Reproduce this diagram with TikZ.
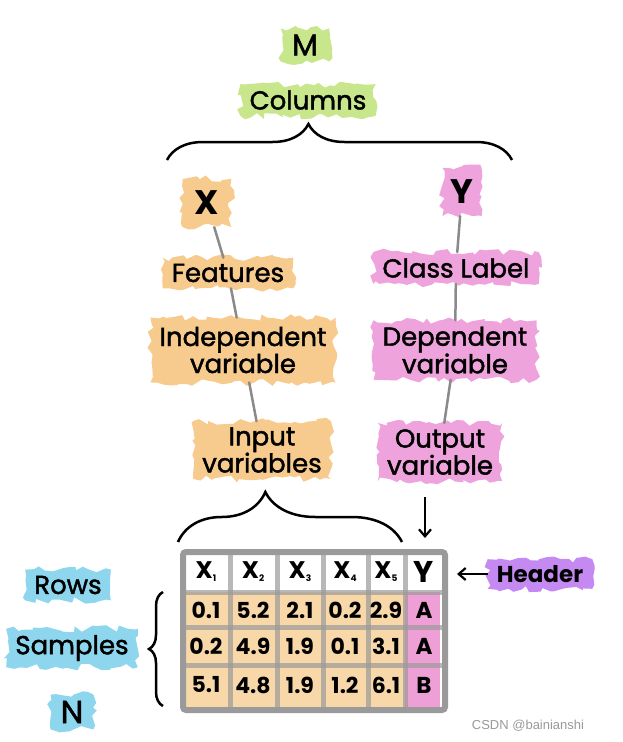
\documentclass[tikz,border=0pt]{standalone}
\usepackage{xcolor}
\usepackage{fontspec}
\setmainfont{Poppins}
\newfontfamily\handfont{Poppins}[FakeBold=1.6]
\newfontfamily\wmfont{Liberation Sans}
\usepackage{tikz}
\usetikzlibrary{positioning, arrows.meta, backgrounds, decorations.pathmorphing, decorations.pathreplacing}
\definecolor{mgreen}{HTML}{C8E68C}
\definecolor{xorange}{HTML}{F7CB8E}
\definecolor{ypink}{HTML}{EFA3DC}
\definecolor{rblue}{HTML}{8DD6EE}
\definecolor{hpurple}{HTML}{C48AF2}
\definecolor{cellorange}{HTML}{F8D8A8}
\definecolor{cellpink}{HTML}{EE9FD6}
\definecolor{framegray}{HTML}{9A9A9A}
\definecolor{linkgray}{HTML}{8A8A8A}

\tikzset{
  blob/.style={inner xsep=9pt, inner ysep=6pt, align=center,
    font=\handfont\fontsize{26}{27}\selectfont},
  blobfill/.style={fill=#1, decorate,
    decoration={random steps, segment length=6pt, amplitude=3.5pt}},
  bigletter/.style={font=\fontsize{34}{34}\selectfont\bfseries, inner sep=12pt},
  link/.style={draw=linkgray, line width=2.5pt, line cap=round},
  brc/.style={decorate, decoration={brace, amplitude=#1}, line width=2.5pt},
  arr/.style={-{Straight Barb[length=7pt, width=12pt]}, line width=2.2pt},
  cell/.style={font=\fontsize{22}{22}\selectfont\bfseries, inner sep=1pt},
}

\begin{document}
\begin{tikzpicture}[x=1pt, y=-1pt]
  \useasboundingbox (0,0) rectangle (622,742);

  % column side
  \node[blob, font=\handfont\fontsize{30}{30}\selectfont, inner xsep=11pt] (m) at (305,45) {M};
  \node[blob] (cols) at (308,100) {Columns};
  \coordinate (cl) at (167,160);
  \coordinate (cr) at (512,160);
  \draw[brc=36, decoration={aspect=0.41}] (cl) -- (cr);

  \node[blob, bigletter] (x) at (207,203) {X};
  \node[blob] (feat) at (228,273) {Features};
  \node[blob, inner ysep=9pt] (indep) at (243,350) {Independent\\variable};
  \node[blob] (input) at (262,450) {Input\\variables};

  \node[blob, bigletter, inner xsep=8pt] (y) at (462,192) {Y};
  \node[blob] (cls) at (456,268) {Class Label};
  \node[blob, font=\handfont\fontsize{26}{23}\selectfont] (dep) at (455,350) {Dependent\\variable};
  \node[blob] (outv) at (440,452) {Output\\variable};

  \draw[link] (x) -- (feat);
  \draw[link] (feat) -- (indep);
  \draw[link] (indep) -- (input);
  \draw[link] (y) -- (cls);
  \draw[link] (cls) -- (dep);
  \draw[link] (dep) -- (outv);

  \coordinate (bl) at (178,542);
  \coordinate (br) at (402,542);
  \draw[brc=50, decoration={aspect=0.39}] (bl) -- (br);
  \coordinate (dtop) at (425,497);
  \coordinate (dbot) at (425,538);
  \draw[arr] (dtop) -- (dbot);

  % table
  \fill[cellorange] (186,592) rectangle (405,707);
  \fill[cellpink] (405,592) rectangle (440,707);
  \foreach \gx in {230,277,323,368,405}
    \draw[framegray, opacity=0.7, line width=5pt] (\gx,552) -- (\gx,710);
  \foreach \gy in {592,627,665}
    \draw[framegray, opacity=0.7, line width=5pt] (183,\gy) -- (445,\gy);
  \draw[framegray, line width=6pt, rounded corners=3pt] (183,552) rectangle (445,710);

  \foreach \cx/\i in {206/1,253/2,300/3,345/4,386/5}
    \node[cell, font=\fontsize{24}{24}\selectfont\bfseries] (h\i) at (\cx,572)
      {X\raisebox{-3pt}{\fontsize{9}{9}\selectfont\i}};
  \node[cell, font=\fontsize{30}{30}\selectfont\bfseries] (hy) at (424,572) {Y};

  \foreach \row/\ry in {1/610,2/646,3/685}{
    \foreach \cx/\i in {206/1,253/2,300/3,345/4,386/5}
      \coordinate (c\row\i) at (\cx,\ry);
  }
  \foreach \v/\n in {0.1/11,5.2/12,2.1/13,0.2/14,2.9/15,
                     0.2/21,4.9/22,1.9/23,0.1/24,3.1/25,
                     5.1/31,4.8/32,1.9/33,1.2/34,6.1/35}
    \node[cell] at (c\n) {\v};
  \node[cell, font=\fontsize{23}{23}\selectfont\bfseries] (a1) at (424,610) {A};
  \node[cell, font=\fontsize{23}{23}\selectfont\bfseries] (a2) at (424,646) {A};
  \node[cell, font=\fontsize{23}{23}\selectfont\bfseries] (b3) at (424,685) {B};

  \node[blob, font=\fontsize{23}{23}\selectfont\bfseries] (hdr) at (540,574) {Header};
  \coordinate (hdrtip) at (457,574);
  \draw[arr] (hdr.west) -- (hdrtip);

  % row side
  \node[blob] (rows) at (68,585) {Rows};
  \node[blob] (samp) at (72,648) {Samples};
  \node[blob, font=\handfont\fontsize{32}{32}\selectfont, inner xsep=10pt] (n) at (72,712) {N};
  \coordinate (lb) at (163,706);
  \coordinate (lt) at (163,592);
  \draw[brc=14] (lb) -- (lt);

  \begin{scope}[on background layer]
    \foreach \b/\c in {m/mgreen,cols/mgreen,x/xorange,feat/xorange,indep/xorange,
                       input/xorange,y/ypink,cls/ypink,dep/ypink,outv/ypink,
                       hdr/hpurple,rows/rblue,samp/rblue,n/rblue}
      \fill[blobfill=\c] (\b.south west) rectangle (\b.north east);
  \end{scope}

  \node[font=\wmfont\fontsize{13}{13}\selectfont, text=gray!80] (wm) at (528,726) {CSDN @bainianshi};
\end{tikzpicture}
\end{document}
